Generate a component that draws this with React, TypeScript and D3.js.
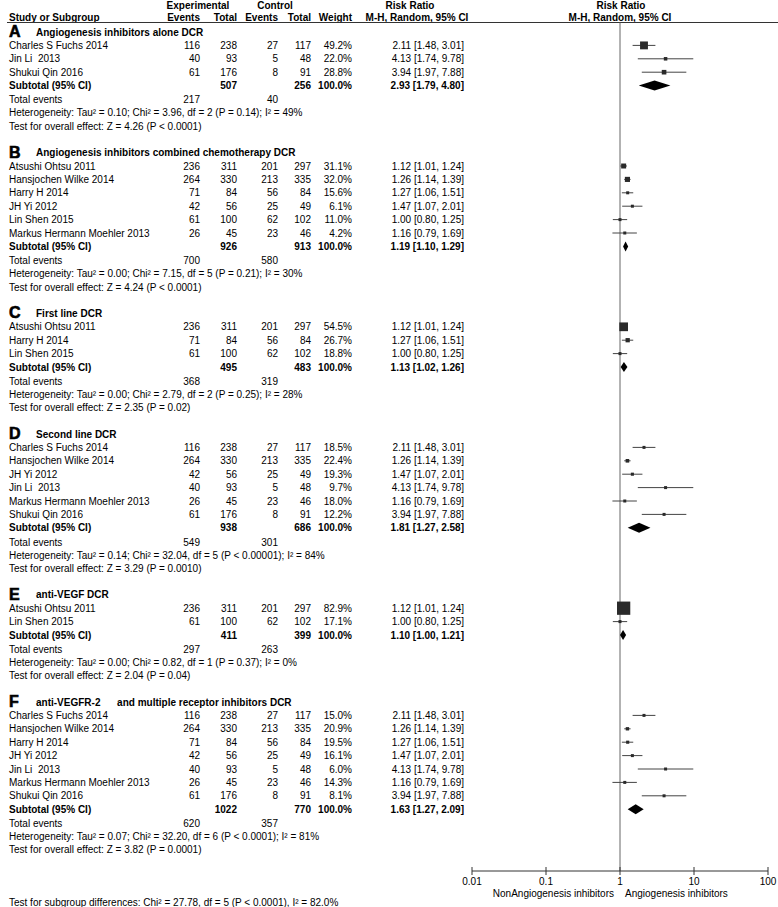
import React from 'react';
import * as d3 from 'd3';

// [name, exp events, exp total, ctrl events, ctrl total, weight %, RR, lower, upper]
type Study = [string, number, number, number, number, number, number, number, number];

const panelLetters = ['A', 'B', 'C', 'D', 'E', 'F'];
const panelTitles = [
  'Angiogenesis inhibitors alone DCR',
  'Angiogenesis inhibitors combined chemotherapy DCR',
  'First line DCR',
  'Second line DCR',
  'anti-VEGF DCR',
  'anti-VEGFR-2      and multiple receptor inhibitors DCR',
];

const studiesA: Study[] = [
  ['Charles S Fuchs 2014', 116, 238, 27, 117, 49.2, 2.11, 1.48, 3.01],
  ['Jin Li  2013', 40, 93, 5, 48, 22.0, 4.13, 1.74, 9.78],
  ['Shukui Qin 2016', 61, 176, 8, 91, 28.8, 3.94, 1.97, 7.88],
];
const studiesB: Study[] = [
  ['Atsushi Ohtsu 2011', 236, 311, 201, 297, 31.1, 1.12, 1.01, 1.24],
  ['Hansjochen Wilke 2014', 264, 330, 213, 335, 32.0, 1.26, 1.14, 1.39],
  ['Harry H 2014', 71, 84, 56, 84, 15.6, 1.27, 1.06, 1.51],
  ['JH Yi 2012', 42, 56, 25, 49, 6.1, 1.47, 1.07, 2.01],
  ['Lin Shen 2015', 61, 100, 62, 102, 11.0, 1.00, 0.80, 1.25],
  ['Markus Hermann Moehler 2013', 26, 45, 23, 46, 4.2, 1.16, 0.79, 1.69],
];
const studiesC: Study[] = [
  ['Atsushi Ohtsu 2011', 236, 311, 201, 297, 54.5, 1.12, 1.01, 1.24],
  ['Harry H 2014', 71, 84, 56, 84, 26.7, 1.27, 1.06, 1.51],
  ['Lin Shen 2015', 61, 100, 62, 102, 18.8, 1.00, 0.80, 1.25],
];
const studiesD: Study[] = [
  ['Charles S Fuchs 2014', 116, 238, 27, 117, 18.5, 2.11, 1.48, 3.01],
  ['Hansjochen Wilke 2014', 264, 330, 213, 335, 22.4, 1.26, 1.14, 1.39],
  ['JH Yi 2012', 42, 56, 25, 49, 19.3, 1.47, 1.07, 2.01],
  ['Jin Li  2013', 40, 93, 5, 48, 9.7, 4.13, 1.74, 9.78],
  ['Markus Hermann Moehler 2013', 26, 45, 23, 46, 18.0, 1.16, 0.79, 1.69],
  ['Shukui Qin 2016', 61, 176, 8, 91, 12.2, 3.94, 1.97, 7.88],
];
const studiesE: Study[] = [
  ['Atsushi Ohtsu 2011', 236, 311, 201, 297, 82.9, 1.12, 1.01, 1.24],
  ['Lin Shen 2015', 61, 100, 62, 102, 17.1, 1.00, 0.80, 1.25],
];
const studiesF: Study[] = [
  ['Charles S Fuchs 2014', 116, 238, 27, 117, 15.0, 2.11, 1.48, 3.01],
  ['Hansjochen Wilke 2014', 264, 330, 213, 335, 20.9, 1.26, 1.14, 1.39],
  ['Harry H 2014', 71, 84, 56, 84, 19.5, 1.27, 1.06, 1.51],
  ['JH Yi 2012', 42, 56, 25, 49, 16.1, 1.47, 1.07, 2.01],
  ['Jin Li  2013', 40, 93, 5, 48, 6.0, 4.13, 1.74, 9.78],
  ['Markus Hermann Moehler 2013', 26, 45, 23, 46, 14.3, 1.16, 0.79, 1.69],
  ['Shukui Qin 2016', 61, 176, 8, 91, 8.1, 3.94, 1.97, 7.88],
];
const panelStudies = [studiesA, studiesB, studiesC, studiesD, studiesE, studiesF];

// [exp total, ctrl total, RR, lower, upper]
const subtotals = [
  [507, 256, 2.93, 1.79, 4.80],
  [926, 913, 1.19, 1.10, 1.29],
  [495, 483, 1.13, 1.02, 1.26],
  [938, 686, 1.81, 1.27, 2.58],
  [411, 399, 1.10, 1.00, 1.21],
  [1022, 770, 1.63, 1.27, 2.09],
];
const totalEvents = [[217, 40], [700, 580], [368, 319], [549, 301], [297, 263], [620, 357]];
const heterogeneity = [
  'Heterogeneity: Tau² = 0.10; Chi² = 3.96, df = 2 (P = 0.14); I² = 49%',
  'Heterogeneity: Tau² = 0.00; Chi² = 7.15, df = 5 (P = 0.21); I² = 30%',
  'Heterogeneity: Tau² = 0.00; Chi² = 2.79, df = 2 (P = 0.25); I² = 28%',
  'Heterogeneity: Tau² = 0.14; Chi² = 32.04, df = 5 (P < 0.00001); I² = 84%',
  'Heterogeneity: Tau² = 0.00; Chi² = 0.82, df = 1 (P = 0.37); I² = 0%',
  'Heterogeneity: Tau² = 0.07; Chi² = 32.20, df = 6 (P < 0.0001); I² = 81%',
];
const overallEffect = [
  'Test for overall effect: Z = 4.26 (P < 0.0001)',
  'Test for overall effect: Z = 4.24 (P < 0.0001)',
  'Test for overall effect: Z = 2.35 (P = 0.02)',
  'Test for overall effect: Z = 3.29 (P = 0.0010)',
  'Test for overall effect: Z = 2.04 (P = 0.04)',
  'Test for overall effect: Z = 3.82 (P = 0.0001)',
];
const axisTicks = [0.01, 0.1, 1, 10, 100];
const favoursLeft = 'NonAngiogenesis inhibitors';
const favoursRight = 'Angiogenesis inhibitors';
const subgroupTest = 'Test for subgroup differences: Chi² = 27.78, df = 5 (P < 0.0001), I² = 82.0%';

const W = 778;
const H = 907;
const FONT = '"Liberation Sans", Arial, sans-serif';
const rowY = (r: number) => 32 + r * 13.4;
const axisY = 871;

// column right edges
const colExpEv = 200;
const colExpTot = 237;
const colCtlEv = 278;
const colCtlTot = 311;
const colWeight = 352;
const colRR = 464;

const fmtRR = (rr: number, lo: number, hi: number) =>
  `${rr.toFixed(2)} [${lo.toFixed(2)}, ${hi.toFixed(2)}]`;

export default function App() {
  const x = d3.scaleLog().domain([0.01, 100]).range([472, 768]);
  const box = d3.scaleLinear().domain([0, 100]).range([0, 16]);

  const rows: React.ReactNode[] = [];
  let start = 0;
  panelStudies.forEach((studies, p) => {
    const base = start;
    const ty = rowY(base);
    rows.push(
      <g key={'t' + p}>
        <text x={9} y={ty + 5} fontSize={16} fontWeight={900} stroke="#000" strokeWidth={0.6}>
          {panelLetters[p]}
        </text>
        <text x={36} y={ty + 3.6} fontWeight="bold" style={{ whiteSpace: 'pre' }}>
          {panelTitles[p]}
        </text>
      </g>
    );
    studies.forEach((s, i) => {
      const y = rowY(base + 1 + i);
      const ty2 = y + 3.6;
      const size = Math.max(3, box(s[5]));
      rows.push(
        <g key={`s${p}-${i}`}>
          <text x={9} y={ty2} style={{ whiteSpace: 'pre' }}>{s[0]}</text>
          <text x={colExpEv} y={ty2} textAnchor="end">{s[1]}</text>
          <text x={colExpTot} y={ty2} textAnchor="end">{s[2]}</text>
          <text x={colCtlEv} y={ty2} textAnchor="end">{s[3]}</text>
          <text x={colCtlTot} y={ty2} textAnchor="end">{s[4]}</text>
          <text x={colWeight} y={ty2} textAnchor="end">{s[5].toFixed(1) + '%'}</text>
          <text x={colRR} y={ty2} textAnchor="end">{fmtRR(s[6], s[7], s[8])}</text>
          <line x1={x(s[7])} x2={x(s[8])} y1={y} y2={y} stroke="#444" strokeWidth={1} />
          <rect x={x(s[6]) - size / 2} y={y - size / 2} width={size} height={size} fill="#2a2a2a" />
        </g>
      );
    });
    const n = studies.length;
    const st = subtotals[p];
    const sy = rowY(base + n + 1);
    const diamond = d3.line()([
      [x(st[3]), sy],
      [x(st[2]), sy - 5],
      [x(st[4]), sy],
      [x(st[2]), sy + 5],
    ]) + 'Z';
    rows.push(
      <g key={'sub' + p}>
        <text x={9} y={sy + 3.6} fontWeight="bold">Subtotal (95% CI)</text>
        <text x={colExpTot} y={sy + 3.6} textAnchor="end" fontWeight="bold">{st[0]}</text>
        <text x={colCtlTot} y={sy + 3.6} textAnchor="end" fontWeight="bold">{st[1]}</text>
        <text x={colWeight} y={sy + 3.6} textAnchor="end" fontWeight="bold">100.0%</text>
        <text x={colRR} y={sy + 3.6} textAnchor="end" fontWeight="bold">{fmtRR(st[2], st[3], st[4])}</text>
        <path d={diamond} fill="#000" />
        <text x={9} y={rowY(base + n + 2) + 4.4}>Total events</text>
        <text x={colExpEv} y={rowY(base + n + 2) + 4.4} textAnchor="end">{totalEvents[p][0]}</text>
        <text x={colCtlEv} y={rowY(base + n + 2) + 4.4} textAnchor="end">{totalEvents[p][1]}</text>
        <text x={9} y={rowY(base + n + 3) + 4}>{heterogeneity[p]}</text>
        <text x={9} y={rowY(base + n + 4) + 4}>{overallEffect[p]}</text>
      </g>
    );
    start = base + n + 6;
  });

  return (
    <svg
      width={W}
      height={H}
      style={{ position: 'absolute', left: 0, top: 0, background: '#fff' }}
      fontFamily={FONT}
      fontSize={10}
      fill="#000"
    >
      {/* header */}
      <g fontWeight="bold">
        <text x={198} y={9} textAnchor="middle">Experimental</text>
        <text x={275} y={9} textAnchor="middle">Control</text>
        <text x={410} y={9} textAnchor="middle">Risk Ratio</text>
        <text x={621} y={9} textAnchor="middle">Risk Ratio</text>
        <text x={9} y={20.5}>Study or Subgroup</text>
        <text x={colExpEv} y={20.5} textAnchor="end">Events</text>
        <text x={colExpTot} y={20.5} textAnchor="end">Total</text>
        <text x={colCtlEv} y={20.5} textAnchor="end">Events</text>
        <text x={colCtlTot} y={20.5} textAnchor="end">Total</text>
        <text x={colWeight} y={20.5} textAnchor="end">Weight</text>
        <text x={417} y={20.5} textAnchor="middle">M-H, Random, 95% CI</text>
        <text x={620} y={20.5} textAnchor="middle">M-H, Random, 95% CI</text>
      </g>
      <line x1={7} x2={W} y1={22.5} y2={22.5} stroke="#333" strokeWidth={1} />
      <line x1={x(1)} x2={x(1)} y1={22.5} y2={axisY} stroke="#666" strokeWidth={1} />

      {rows}

      {/* axis */}
      <line x1={x(0.01)} x2={x(100)} y1={axisY} y2={axisY} stroke="#333" strokeWidth={1} />
      {axisTicks.map((t) => (
        <g key={t}>
          <line x1={x(t)} x2={x(t)} y1={axisY - 4} y2={axisY + 4} stroke="#333" strokeWidth={1} />
          <text x={x(t)} y={axisY + 14} textAnchor="middle">{t}</text>
        </g>
      ))}
      <text x={614} y={axisY + 26} textAnchor="end">{favoursLeft}</text>
      <text x={625} y={axisY + 26}>{favoursRight}</text>

      <text x={9} y={906}>{subgroupTest}</text>
    </svg>
  );
}
